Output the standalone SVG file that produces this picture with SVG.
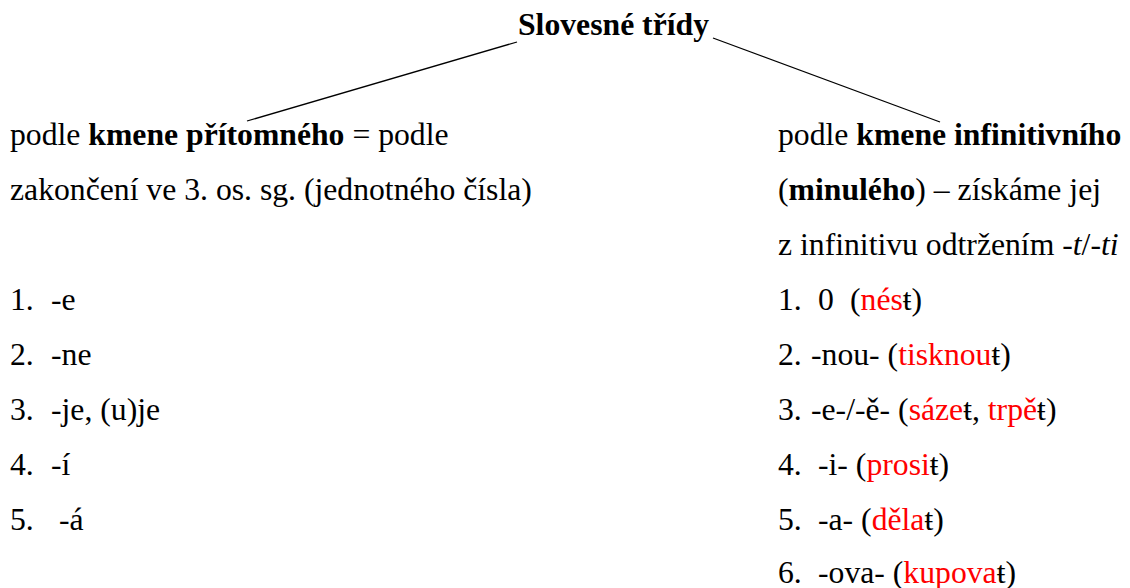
<svg xmlns="http://www.w3.org/2000/svg" width="1130" height="588" viewBox="0 0 1130 588">
<style>
text{font-family:"Liberation Serif","Times New Roman",serif;font-size:31.7px;fill:#000}
.b{font-weight:bold}
.i{font-style:italic}
.r{fill:#ff0000}
.c line{stroke:#000;stroke-width:1.3}
</style>
<rect width="1130" height="588" fill="#fff"/>
<g id="title"><text class="b" x="518" y="35">Slovesné třídy</text></g>
<g id="left">
<text x="10" y="145">podle <tspan class="b">kmene přítomného</tspan> = podle</text>
<text x="10" y="200">zakončení ve 3. os. sg. (jednotného čísla)</text>
<text x="10" y="310">1.<tspan x="51">-e</tspan></text>
<text x="10" y="365">2.<tspan x="51">-ne</tspan></text>
<text x="10" y="420">3.<tspan x="51">-je, (u)je</tspan></text>
<text x="10" y="475">4.<tspan x="51">-í</tspan></text>
<text x="10" y="530">5.<tspan x="59">-á</tspan></text>
</g>
<g id="right">
<text x="778" y="145">podle <tspan class="b">kmene infinitivního</tspan></text>
<text x="778" y="200">(<tspan class="b">minulého</tspan>) – získáme jej</text>
<text x="778" y="255">z infinitivu odtržením <tspan class="i">-t</tspan>/<tspan class="i">-ti</tspan></text>
<text x="778" y="310">1.<tspan x="818">0</tspan><tspan x="850">(</tspan><tspan class="r">nés</tspan>ŧ)</text>
<text x="778" y="365">2.<tspan x="811">-nou- (</tspan><tspan class="r">tisknou</tspan>ŧ)</text>
<text x="778" y="420">3.<tspan x="811">-e-/-ě- (</tspan><tspan class="r">sáze</tspan>ŧ, <tspan class="r">trpě</tspan>ŧ)</text>
<text x="778" y="475">4.<tspan x="818">-i- (</tspan><tspan class="r">prosi</tspan>ŧ)</text>
<text x="778" y="530">5.<tspan x="818">-a- (</tspan><tspan class="r">děla</tspan>ŧ)</text>
<text x="778" y="583">6.<tspan x="818">-ova- (</tspan><tspan class="r">kupova</tspan>ŧ)</text>
</g>
<g id="connectors" class="c">
<line x1="517" y1="42" x2="247" y2="121"/>
<line x1="713" y1="38" x2="940" y2="122"/>
</g>
</svg>
